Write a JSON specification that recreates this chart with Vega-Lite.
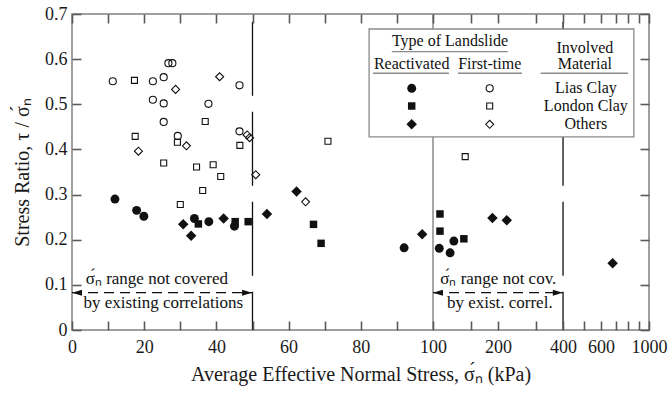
{
  "$schema": "https://vega.github.io/schema/vega-lite/v6.json",
  "width": 577,
  "height": 316,
  "autosize": "none",
  "padding": {"left": 72, "top": 14, "right": 20, "bottom": 63},
  "background": "white",
  "config": {
    "view": {"stroke": "#808080", "strokeWidth": 1.5},
    "font": "Liberation Serif",
    "axis": {
      "labelFont": "Liberation Serif",
      "titleFont": "Liberation Serif",
      "labelFontSize": 18,
      "titleFontSize": 20,
      "titleFontWeight": "normal",
      "labelColor": "#1a1a1a",
      "titleColor": "#1a1a1a",
      "domain": false,
      "ticks": true,
      "tickColor": "#5a5a5a",
      "tickWidth": 1.6,
      "tickSize": 9,
      "grid": false
    }
  },
  "datasets": {
    "points": [
      {"x": 11.3, "y": 0.551, "type": "First-time", "material": "Lias Clay"},
      {"x": 22.4, "y": 0.551, "type": "First-time", "material": "Lias Clay"},
      {"x": 22.4, "y": 0.510, "type": "First-time", "material": "Lias Clay"},
      {"x": 25.4, "y": 0.560, "type": "First-time", "material": "Lias Clay"},
      {"x": 25.4, "y": 0.502, "type": "First-time", "material": "Lias Clay"},
      {"x": 25.4, "y": 0.461, "type": "First-time", "material": "Lias Clay"},
      {"x": 26.7, "y": 0.591, "type": "First-time", "material": "Lias Clay"},
      {"x": 27.8, "y": 0.591, "type": "First-time", "material": "Lias Clay"},
      {"x": 29.3, "y": 0.430, "type": "First-time", "material": "Lias Clay"},
      {"x": 37.8, "y": 0.501, "type": "First-time", "material": "Lias Clay"},
      {"x": 46.4, "y": 0.542, "type": "First-time", "material": "Lias Clay"},
      {"x": 46.4, "y": 0.440, "type": "First-time", "material": "Lias Clay"},
      {"x": 17.3, "y": 0.553, "type": "First-time", "material": "London Clay"},
      {"x": 17.5, "y": 0.429, "type": "First-time", "material": "London Clay"},
      {"x": 25.4, "y": 0.370, "type": "First-time", "material": "London Clay"},
      {"x": 29.2, "y": 0.416, "type": "First-time", "material": "London Clay"},
      {"x": 36.9, "y": 0.462, "type": "First-time", "material": "London Clay"},
      {"x": 34.5, "y": 0.361, "type": "First-time", "material": "London Clay"},
      {"x": 39.1, "y": 0.366, "type": "First-time", "material": "London Clay"},
      {"x": 41.2, "y": 0.340, "type": "First-time", "material": "London Clay"},
      {"x": 36.2, "y": 0.309, "type": "First-time", "material": "London Clay"},
      {"x": 46.5, "y": 0.409, "type": "First-time", "material": "London Clay"},
      {"x": 70.9, "y": 0.418, "type": "First-time", "material": "London Clay"},
      {"x": 30.0, "y": 0.278, "type": "First-time", "material": "London Clay"},
      {"x": 141, "y": 0.384, "type": "First-time", "material": "London Clay"},
      {"x": 18.4, "y": 0.396, "type": "First-time", "material": "Others"},
      {"x": 28.7, "y": 0.533, "type": "First-time", "material": "Others"},
      {"x": 31.7, "y": 0.408, "type": "First-time", "material": "Others"},
      {"x": 40.9, "y": 0.561, "type": "First-time", "material": "Others"},
      {"x": 48.5, "y": 0.432, "type": "First-time", "material": "Others"},
      {"x": 49.2, "y": 0.426, "type": "First-time", "material": "Others"},
      {"x": 50.9, "y": 0.344, "type": "First-time", "material": "Others"},
      {"x": 64.7, "y": 0.284, "type": "First-time", "material": "Others"},
      {"x": 11.9, "y": 0.290, "type": "Reactivated", "material": "Lias Clay"},
      {"x": 17.9, "y": 0.265, "type": "Reactivated", "material": "Lias Clay"},
      {"x": 19.9, "y": 0.252, "type": "Reactivated", "material": "Lias Clay"},
      {"x": 33.9, "y": 0.247, "type": "Reactivated", "material": "Lias Clay"},
      {"x": 37.9, "y": 0.240, "type": "Reactivated", "material": "Lias Clay"},
      {"x": 45.0, "y": 0.230, "type": "Reactivated", "material": "Lias Clay"},
      {"x": 92.0, "y": 0.182, "type": "Reactivated", "material": "Lias Clay"},
      {"x": 107, "y": 0.181, "type": "Reactivated", "material": "Lias Clay"},
      {"x": 120, "y": 0.171, "type": "Reactivated", "material": "Lias Clay"},
      {"x": 125, "y": 0.197, "type": "Reactivated", "material": "Lias Clay"},
      {"x": 35.0, "y": 0.235, "type": "Reactivated", "material": "London Clay"},
      {"x": 45.2, "y": 0.240, "type": "Reactivated", "material": "London Clay"},
      {"x": 48.8, "y": 0.240, "type": "Reactivated", "material": "London Clay"},
      {"x": 66.9, "y": 0.234, "type": "Reactivated", "material": "London Clay"},
      {"x": 69.0, "y": 0.192, "type": "Reactivated", "material": "London Clay"},
      {"x": 107.8, "y": 0.257, "type": "Reactivated", "material": "London Clay"},
      {"x": 107.8, "y": 0.219, "type": "Reactivated", "material": "London Clay"},
      {"x": 139, "y": 0.202, "type": "Reactivated", "material": "London Clay"},
      {"x": 30.8, "y": 0.234, "type": "Reactivated", "material": "Others"},
      {"x": 33.0, "y": 0.209, "type": "Reactivated", "material": "Others"},
      {"x": 42.0, "y": 0.247, "type": "Reactivated", "material": "Others"},
      {"x": 54.0, "y": 0.257, "type": "Reactivated", "material": "Others"},
      {"x": 62.2, "y": 0.307, "type": "Reactivated", "material": "Others"},
      {"x": 97.0, "y": 0.212, "type": "Reactivated", "material": "Others"},
      {"x": 189, "y": 0.248, "type": "Reactivated", "material": "Others"},
      {"x": 220, "y": 0.243, "type": "Reactivated", "material": "Others"},
      {"x": 680, "y": 0.148, "type": "Reactivated", "material": "Others"}
    ],
    "legendSymbols": [
      {"x": 94.1, "y": 0.5354, "type": "Reactivated", "material": "Lias Clay"},
      {"x": 94.1, "y": 0.4962, "type": "Reactivated", "material": "London Clay"},
      {"x": 94.1, "y": 0.4557, "type": "Reactivated", "material": "Others"},
      {"x": 183.6, "y": 0.5354, "type": "First-time", "material": "Lias Clay"},
      {"x": 183.6, "y": 0.4962, "type": "First-time", "material": "London Clay"},
      {"x": 183.6, "y": 0.4557, "type": "First-time", "material": "Others"}
    ],
    "legendText": [
      {"x": 119.9, "y": 0.641, "text": "Type of Landslide"},
      {"x": 505, "y": 0.624, "text": "Involved"},
      {"x": 505, "y": 0.589, "text": "Material"},
      {"x": 94.1, "y": 0.589, "text": "Reactivated"},
      {"x": 183.6, "y": 0.589, "text": "First-time"},
      {"x": 511, "y": 0.5354, "text": "Lias Clay"},
      {"x": 511, "y": 0.4962, "text": "London Clay"},
      {"x": 511, "y": 0.4557, "text": "Others"}
    ],
    "legendLines": [
      {"x": 88.6, "x2": 222.4, "y": 0.6165},
      {"x": 83.4, "x2": 118.6, "y": 0.5687},
      {"x": 130.6, "x2": 258.3, "y": 0.5687},
      {"x": 316, "x2": 799, "y": 0.5687}
    ],
    "notes": [
      {"x": 23.5, "y": 0.1123, "text": "σ́ₙ range not covered"},
      {"x": 25.3, "y": 0.0592, "text": "by existing correlations"},
      {"x": 200.6, "y": 0.1123, "text": "σ́ₙ range not cov."},
      {"x": 204, "y": 0.0592, "text": "by exist. correl."}
    ],
    "ranges": [
      {"x": 0, "x2": 50, "y": 0.0826},
      {"x": 100, "x2": 400, "y": 0.0826}
    ],
    "arrowLeft": [
      {"x": 1.39, "y": 0.0826},
      {"x": 105.5, "y": 0.0826}
    ],
    "arrowRight": [
      {"x": 48.5, "y": 0.0826},
      {"x": 379, "y": 0.0826}
    ]
  },
  "resolve": {"axis": {"x": "independent", "y": "independent"}, "scale": {"size": "independent"}},
  "layer": [
    {
      "data": {"values": [{"x": 100, "y": 0, "y2": 0.7}]},
      "mark": {"type": "rule", "color": "#8a8a8a", "strokeWidth": 1.5},
      "encoding": {
        "x": {
          "field": "x", "type": "quantitative",
          "scale": {
            "domain": [0, 100, 110, 120, 130, 140, 150, 170, 200, 230, 260, 300, 350, 400, 500, 600, 700, 800, 900, 1000],
            "range": [0, 361, 369.94, 378.1, 385.61, 392.56, 399.04, 410.78, 426.02, 439.13, 450.63, 464.06, 478.52, 491.04, 511.98, 529.08, 543.54, 556.07, 567.12, 577],
            "nice": false, "zero": false
          },
          "axis": {"orient": "top", "labels": false, "title": null, "ticks": true, "tickSize": 9, "tickColor": "#5a5a5a", "tickWidth": 1.6, "offset": -9, "zindex": 2, "values": [0, 10, 20, 30, 40, 50, 60, 70, 80, 90, 100, 150, 200, 300, 400, 500, 600, 700, 800, 900, 1000]}
        },
        "y": {
          "field": "y", "type": "quantitative",
          "scale": {"domain": [0, 0.7], "nice": false, "zero": false},
          "axis": {"orient": "right", "labels": false, "title": null, "ticks": true, "tickSize": 9, "tickColor": "#5a5a5a", "tickWidth": 1.6, "offset": -9, "zindex": 2, "values": [0, 0.1, 0.2, 0.3, 0.4, 0.5, 0.6, 0.7]}
        },
        "y2": {"field": "y2"}
      }
    },
    {
      "data": {"values": [{"x": 50, "y": 0.683, "y2": 0}, {"x": 400, "y": 0.683, "y2": 0}]},
      "mark": {"type": "rule", "color": "#111", "strokeWidth": 1.3, "strokeDash": [74, 16]},
      "encoding": {
        "x": {"field": "x", "type": "quantitative", "axis": null},
        "y": {"field": "y", "type": "quantitative", "axis": null},
        "y2": {"field": "y2"}
      }
    },
    {
      "data": {"values": [{"x": 82.3, "x2": 852, "y": 0.4276, "y2": 0.6668}]},
      "mark": {"type": "rect", "fill": "white", "stroke": "#8a8a8a", "strokeWidth": 1.3},
      "encoding": {
        "x": {"field": "x", "type": "quantitative", "axis": null},
        "x2": {"field": "x2"},
        "y": {"field": "y", "type": "quantitative", "axis": null},
        "y2": {"field": "y2"}
      }
    },
    {
      "data": {"name": "legendLines"},
      "mark": {"type": "rule", "color": "#8a8a8a", "strokeWidth": 1.3},
      "encoding": {
        "x": {"field": "x", "type": "quantitative", "axis": null},
        "x2": {"field": "x2"},
        "y": {"field": "y", "type": "quantitative", "axis": null}
      }
    },
    {
      "data": {"name": "legendText"},
      "mark": {"type": "text", "font": "Liberation Serif", "fontSize": 16, "align": "center", "baseline": "middle", "color": "#111"},
      "encoding": {
        "x": {"field": "x", "type": "quantitative", "axis": null},
        "y": {"field": "y", "type": "quantitative", "axis": null},
        "text": {"field": "text"}
      }
    },
    {
      "data": {"name": "ranges"},
      "mark": {"type": "rule", "color": "#111", "strokeWidth": 1.3, "strokeDash": [10, 6]},
      "encoding": {
        "x": {"field": "x", "type": "quantitative", "axis": null},
        "x2": {"field": "x2"},
        "y": {"field": "y", "type": "quantitative", "axis": null}
      }
    },
    {
      "data": {"name": "arrowLeft"},
      "mark": {"type": "point", "shape": "M-1,0L1,-0.6L1,0.6Z", "size": 100, "filled": true, "color": "#111", "opacity": 1},
      "encoding": {
        "x": {"field": "x", "type": "quantitative", "axis": null},
        "y": {"field": "y", "type": "quantitative", "axis": null}
      }
    },
    {
      "data": {"name": "arrowRight"},
      "mark": {"type": "point", "shape": "M1,0L-1,-0.6L-1,0.6Z", "size": 100, "filled": true, "color": "#111", "opacity": 1},
      "encoding": {
        "x": {"field": "x", "type": "quantitative", "axis": null},
        "y": {"field": "y", "type": "quantitative", "axis": null}
      }
    },
    {
      "data": {"name": "notes"},
      "mark": {"type": "text", "font": "Liberation Serif", "fontSize": 17, "align": "center", "baseline": "middle", "color": "#111"},
      "encoding": {
        "x": {"field": "x", "type": "quantitative", "axis": null},
        "y": {"field": "y", "type": "quantitative", "axis": null},
        "text": {"field": "text"}
      }
    },
    {
      "data": {"name": "legendSymbols"},
      "transform": [{"filter": "datum.type === 'Reactivated'"}],
      "mark": {"type": "point", "filled": true, "color": "#111", "opacity": 1},
      "encoding": {
        "x": {"field": "x", "type": "quantitative", "axis": null},
        "y": {"field": "y", "type": "quantitative", "axis": null},
        "shape": {"field": "material", "type": "nominal", "scale": {"domain": ["Lias Clay", "London Clay", "Others"], "range": ["circle", "square", "diamond"]}, "legend": null},
        "size": {"field": "material", "type": "nominal", "scale": {"type": "ordinal", "domain": ["Lias Clay", "London Clay", "Others"], "range": [80, 56, 110]}, "legend": null}
      }
    },
    {
      "data": {"name": "legendSymbols"},
      "transform": [{"filter": "datum.type === 'First-time'"}],
      "mark": {"type": "point", "filled": false, "color": "#111", "strokeWidth": 1.1, "opacity": 1},
      "encoding": {
        "x": {"field": "x", "type": "quantitative", "axis": null},
        "y": {"field": "y", "type": "quantitative", "axis": null},
        "shape": {"field": "material", "type": "nominal", "scale": {"domain": ["Lias Clay", "London Clay", "Others"], "range": ["circle", "square", "diamond"]}, "legend": null},
        "size": {"field": "material", "type": "nominal", "scale": {"type": "ordinal", "domain": ["Lias Clay", "London Clay", "Others"], "range": [50, 36, 64]}, "legend": null}
      }
    },
    {
      "data": {"name": "points"},
      "transform": [{"filter": "datum.type === 'First-time'"}],
      "mark": {"type": "point", "filled": false, "color": "#111", "strokeWidth": 1.1, "opacity": 1},
      "encoding": {
        "x": {"field": "x", "type": "quantitative", "axis": null},
        "y": {"field": "y", "type": "quantitative", "axis": null},
        "shape": {"field": "material", "type": "nominal", "scale": {"domain": ["Lias Clay", "London Clay", "Others"], "range": ["circle", "square", "diamond"]}, "legend": null},
        "size": {"field": "material", "type": "nominal", "scale": {"type": "ordinal", "domain": ["Lias Clay", "London Clay", "Others"], "range": [50, 36, 64]}, "legend": null}
      }
    },
    {
      "data": {"name": "points"},
      "transform": [{"filter": "datum.type === 'Reactivated'"}],
      "mark": {"type": "point", "filled": true, "color": "#111", "opacity": 1},
      "encoding": {
        "x": {
          "field": "x", "type": "quantitative",
          "axis": {
            "orient": "bottom",
            "title": "Average Effective Normal Stress, σ́ₙ (kPa)",
            "values": [0, 10, 20, 30, 40, 50, 60, 70, 80, 90, 100, 150, 200, 300, 400, 500, 600, 700, 800, 900, 1000],
            "format": "d",
            "labelExpr": "indexof([0, 20, 40, 60, 80, 100, 200, 400, 600, 1000], datum.value) >= 0 ? datum.label : ''",
            "labelFlush": false,
            "labelOverlap": false,
            "ticks": true,
            "tickSize": 9,
            "tickColor": "#5a5a5a",
            "tickWidth": 1.6,
            "offset": -9,
            "zindex": 2,
            "labelPadding": 8,
            "titlePadding": 8
          }
        },
        "y": {
          "field": "y", "type": "quantitative",
          "axis": {
            "orient": "left",
            "title": "Stress Ratio, τ / σ́ₙ",
            "values": [0, 0.1, 0.2, 0.3, 0.4, 0.5, 0.6, 0.7],
            "format": "~g",
            "ticks": true,
            "tickSize": 9,
            "tickColor": "#5a5a5a",
            "tickWidth": 1.6,
            "offset": -9,
            "zindex": 2,
            "labelPadding": 5,
            "titlePadding": 12
          }
        },
        "shape": {"field": "material", "type": "nominal", "scale": {"domain": ["Lias Clay", "London Clay", "Others"], "range": ["circle", "square", "diamond"]}, "legend": null},
        "size": {"field": "material", "type": "nominal", "scale": {"type": "ordinal", "domain": ["Lias Clay", "London Clay", "Others"], "range": [80, 56, 110]}, "legend": null}
      }
    }
  ]
}
